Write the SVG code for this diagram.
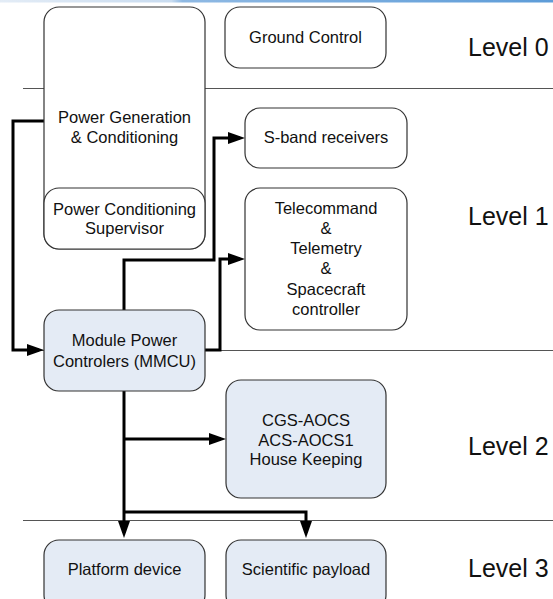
<svg xmlns="http://www.w3.org/2000/svg" width="553" height="599" viewBox="0 0 553 599">
<defs>
<linearGradient id="topbar" x1="0" x2="1" y1="0" y2="0">
<stop offset="0" stop-color="#e3ecf6"/>
<stop offset="0.31" stop-color="#c9dcf0"/>
<stop offset="0.33" stop-color="#8fb9e3"/>
<stop offset="1" stop-color="#5d9cd8"/>
</linearGradient>
<marker id="arr" markerUnits="userSpaceOnUse" markerWidth="18" markerHeight="12" refX="12" refY="6" orient="auto">
<path d="M0,0 L17,6 L0,12 z" fill="#000"/>
</marker>
</defs>
<style>
.box{fill:#fff;stroke:#333;stroke-width:1.2}
.blue{fill:#e4ebf5}
.t{font-family:"Liberation Sans",Arial,sans-serif;font-size:16.5px;fill:#111;text-anchor:middle}
.lvl{font-family:"Liberation Sans",Arial,sans-serif;font-size:25px;fill:#111}
.sep{stroke:#555;stroke-width:1;fill:none}
.c{fill:none;stroke:#000;stroke-width:3;stroke-linejoin:miter}
.ca{marker-end:url(#arr)}
</style>
<rect x="0" y="0" width="553" height="2.5" fill="url(#topbar)"/>
<g id="levels">
<line class="sep" x1="23" y1="88.5" x2="553" y2="88.5"/>
<line class="sep" x1="23" y1="350.5" x2="553" y2="350.5"/>
<line class="sep" x1="23" y1="520.5" x2="553" y2="520.5"/>
<text class="lvl" x="468" y="56">Level 0</text>
<text class="lvl" x="468" y="225">Level 1</text>
<text class="lvl" x="468" y="455">Level 2</text>
<text class="lvl" x="468" y="577">Level 3</text>
</g>
<g id="connectors">
<path class="c ca" d="M44,121 H13 V350 H39"/>
<path class="c ca" d="M124,310 V260 H214 V138 H240"/>
<path class="c ca" d="M205,350 H220 V259 H240"/>
<path class="c ca" d="M124,391 V533"/>
<path class="c ca" d="M124,439 H221"/>
<path class="c ca" d="M124,512 H306 V533"/>
</g>
<g id="power-generation">
<rect class="box" x="44" y="7" width="161" height="242" rx="15"/>
<text class="t" x="124.5" y="123">Power Generation</text>
<text class="t" x="124.5" y="143">&amp; Conditioning</text>
</g>
<g id="power-conditioning-supervisor">
<rect class="box" x="44" y="188" width="161" height="61" rx="15"/>
<text class="t" x="124.5" y="215">Power Conditioning</text>
<text class="t" x="124.5" y="234">Supervisor</text>
</g>
<g id="ground-control">
<rect class="box" x="225" y="7" width="161" height="61" rx="15"/>
<text class="t" x="305.5" y="43">Ground Control</text>
</g>
<g id="s-band">
<rect class="box" x="245" y="108" width="162" height="60" rx="15"/>
<text class="t" x="326" y="143">S-band receivers</text>
</g>
<g id="telecommand">
<rect class="box" x="245" y="188" width="162" height="142" rx="15"/>
<text class="t" x="326" y="214">Telecommand</text>
<text class="t" x="326" y="234">&amp;</text>
<text class="t" x="326" y="254">Telemetry</text>
<text class="t" x="326" y="274">&amp;</text>
<text class="t" x="326" y="295">Spacecraft</text>
<text class="t" x="326" y="315">controller</text>
</g>
<g id="mmcu">
<rect class="box blue" x="44" y="310" width="161" height="81" rx="15"/>
<text class="t" x="124.5" y="346">Module Power</text>
<text class="t" x="124.5" y="367">Controlers (MMCU)</text>
</g>
<g id="aocs">
<rect class="box blue" x="226" y="380" width="160" height="118" rx="15"/>
<text class="t" x="306" y="426">CGS-AOCS</text>
<text class="t" x="306" y="446">ACS-AOCS1</text>
<text class="t" x="306" y="465">House Keeping</text>
</g>
<g id="platform-device">
<rect class="box blue" x="44" y="540" width="161" height="70" rx="15"/>
<text class="t" x="124.5" y="575">Platform device</text>
</g>
<g id="scientific-payload">
<rect class="box blue" x="226" y="540" width="160" height="70" rx="15"/>
<text class="t" x="306" y="575">Scientific payload</text>
</g>
</svg>
